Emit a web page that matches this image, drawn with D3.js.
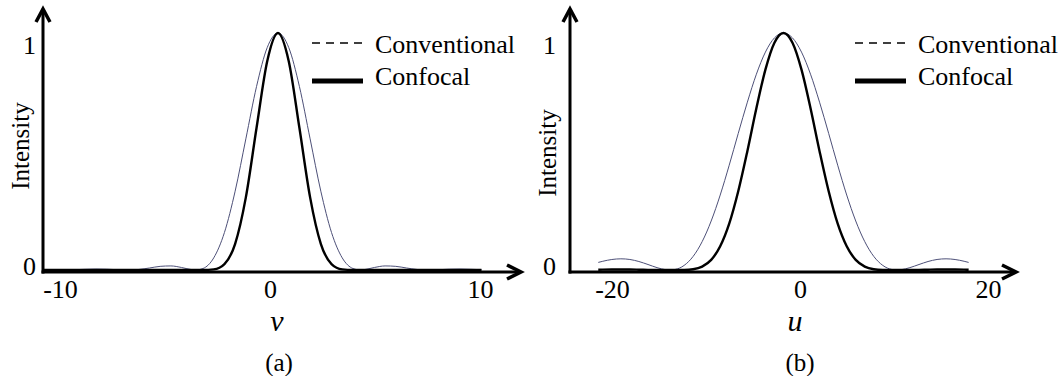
<!DOCTYPE html>
<html lang="en">
<head>
<meta charset="utf-8">
<title>Conventional vs Confocal Intensity</title>
<script src="https://d3js.org/d3.v7.min.js"></script>
<style>
  body { margin: 0; background: #fff; }
  svg text { font-family: "Liberation Serif", Tinos, "Times New Roman", Times, "DejaVu Serif", serif; fill: #000; }
  .tick text { font-size: 26px; }
  .legend { font-size: 26px; }
  .ylabel { font-size: 25px; }
  .xlabel { font-size: 30px; font-style: italic; }
  .caption { font-size: 25px; }
</style>
</head>
<body>
<div id="vis"></div>
<script>
// panel (a): lateral, v
const vA = [-10.84,-10.33,-9.82,-9.31,-8.80,-8.29,-7.78,-7.27,-6.76,-6.25,-5.74,-5.23,-4.72,-4.21,-3.70,-3.53,-3.19,-2.68,-2.17,-1.66,-1.15,-0.64,-0.13,
            0.38,
            0.89,1.40,1.91,2.42,2.93,3.44,3.95,4.29,4.46,4.97,5.48,5.99,6.50,7.01,7.52,8.03,8.54,9.05,9.56,10.07];
const convA = [0.0010,0.0002,0.0001,0.0012,0.0030,0.0041,0.0034,0.0013,0.0000,0.0022,0.0085,0.0154,0.0172,0.0106,0.0011,0.0000,0.0062,0.0511,0.1581,0.3326,0.5534,0.7746,0.9392,
               1.0000,
               0.9392,0.7746,0.5534,0.3326,0.1581,0.0511,0.0062,0.0000,0.0011,0.0106,0.0172,0.0154,0.0085,0.0022,0.0000,0.0013,0.0034,0.0041,0.0030,0.0012];
const confA = [0,0,0,0,0,0,0,0,0,0,0.0001,0.0002,0.0003,0.0001,0,0,0,0.0026,0.0250,0.1106,0.3063,0.6000,0.8821,
               1.0000,
               0.8821,0.6000,0.3063,0.1106,0.0250,0.0026,0,0,0,0.0001,0.0003,0.0002,0.0001,0,0,0,0,0,0,0];

// panel (b): axial, u
const uB = [-21.46,-20.98,-20.02,-19.06,-18.10,-17.14,-16.17,-15.21,-14.25,-13.84,-13.29,-12.33,-11.37,-10.41,-9.45,-8.49,-7.53,-6.57,-5.60,-4.64,-3.68,-2.72,
            -1.76,
            -0.80,0.16,1.12,2.08,3.05,4.01,4.97,5.93,6.89,7.85,8.81,9.77,10.32,10.73,11.69,12.66,13.62,14.58,15.54,16.50,17.46,17.94];
const convB = [0.0320,0.0368,0.0443,0.0472,0.0444,0.0358,0.0232,0.0100,0.0011,0.0000,0.0022,0.0193,0.0573,0.1196,0.2067,0.3162,0.4422,0.5764,0.7081,0.8261,0.9194,0.9793,
               1.0000,
               0.9793,0.9194,0.8261,0.7081,0.5764,0.4422,0.3162,0.2067,0.1196,0.0573,0.0193,0.0022,0.0000,0.0011,0.0100,0.0232,0.0358,0.0444,0.0472,0.0443,0.0368,0.0320];
const confB = [0.0010,0.0014,0.0020,0.0022,0.0020,0.0013,0.0005,0.0001,0,0,0,0.0004,0.0033,0.0143,0.0427,0.1000,0.1955,0.3322,0.5014,0.6824,0.8453,0.9590,
               1.0000,
               0.9590,0.8453,0.6824,0.5014,0.3322,0.1955,0.1000,0.0427,0.0143,0.0033,0.0004,0,0,0,0.0001,0.0005,0.0013,0.0020,0.0022,0.0020,0.0014,0.0010];

const ticksA = [-10, 0, 10];
const ticksB = [-20, 0, 20];
const yTicks = [0, 1];
const seriesNames = ["Conventional", "Confocal"];

const width = 1064, height = 376;

const svg = d3.select("#vis").append("svg")
  .attr("width", width)
  .attr("height", height);

function drawPanel(p) {
  const x = d3.scaleLinear().domain(p.xDomain).range(p.xRange);
  const y = d3.scaleLinear().domain([0, 1]).range([270, 33]);
  const g = svg.append("g");

  const line = d3.line()
    .x(d => x(d[0]))
    .y(d => y(d[1]))
    .curve(d3.curveMonotoneX);

  // conventional: thin grey-blue
  g.append("path")
    .datum(p.xs.map((v, i) => [v, p.conv[i]]))
    .attr("d", line)
    .attr("fill", "none")
    .attr("stroke", "#4d5078")
    .attr("stroke-width", 1);

  // confocal: thick black
  g.append("path")
    .datum(p.xs.map((v, i) => [v, p.conf[i]]))
    .attr("d", line)
    .attr("fill", "none")
    .attr("stroke", "#000")
    .attr("stroke-width", 2.4);

  // axes lines with arrows
  const ax = p.axisX, ay = 272;
  g.append("line").attr("x1", ax).attr("y1", ay + 1.5).attr("x2", ax).attr("y2", 10)
    .attr("stroke", "#000").attr("stroke-width", 3);
  g.append("line").attr("x1", ax - 1.5).attr("y1", ay).attr("x2", p.arrowX - 1).attr("y2", ay)
    .attr("stroke", "#000").attr("stroke-width", 3);
  g.append("polyline")
    .attr("points", [[ax - 7, 22], [ax, 9], [ax + 7, 22]].join(" "))
    .attr("fill", "none").attr("stroke", "#000").attr("stroke-width", 3.5);
  g.append("polyline")
    .attr("points", [[p.arrowX - 14, ay - 7], [p.arrowX, ay], [p.arrowX - 14, ay + 7]].join(" "))
    .attr("fill", "none").attr("stroke", "#000").attr("stroke-width", 3.5);

  // tick labels
  const bottomAxis = d3.axisBottom(x).tickValues(p.ticks).tickSize(0).tickPadding(8)
    .tickFormat(d => String(d));
  const gx = g.append("g").attr("transform", "translate(0," + ay + ")").call(bottomAxis);
  gx.select(".domain").remove();
  gx.attr("font-family", null).attr("font-size", null);

  const leftAxis = d3.axisLeft(y).tickValues(yTicks).tickSize(0).tickPadding(p.yPad)
    .tickFormat(d => String(d));
  const gy = g.append("g").attr("transform", "translate(" + ax + ",0)").call(leftAxis);
  gy.select(".domain").remove();
  gy.attr("font-family", null).attr("font-size", null);
  gy.selectAll("text").attr("dy", d => d === 1 ? "0.78em" : "0.17em");

  // y label
  g.append("text")
    .attr("class", "ylabel")
    .attr("transform", "translate(" + p.yLabelX + "," + p.yLabelY + ") rotate(-90)")
    .attr("text-anchor", "middle")
    .attr("dy", "0.35em")
    .text("Intensity");

  // x label
  g.append("text")
    .attr("class", "xlabel")
    .attr("x", p.xNameX)
    .attr("y", 331)
    .attr("text-anchor", "middle")
    .text(p.xName);

  g.append("text")
    .attr("class", "caption")
    .attr("x", p.captionX)
    .attr("y", 371)
    .attr("text-anchor", "middle")
    .text(p.caption);

  // legend
  const lg = g.append("g").attr("transform", "translate(" + p.legendX + ",0)");
  lg.append("line").attr("x1", 0).attr("x2", 51).attr("y1", 43).attr("y2", 43)
    .attr("stroke", "#000").attr("stroke-width", 1.5).attr("stroke-dasharray", "8,6");
  lg.append("line").attr("x1", 0).attr("x2", 51).attr("y1", 81).attr("y2", 81)
    .attr("stroke", "#000").attr("stroke-width", 5);
  lg.append("text").attr("class", "legend").attr("x", 63).attr("y", 53).text(seriesNames[0]);
  lg.append("text").attr("class", "legend").attr("x", 63).attr("y", 85).text(seriesNames[1]);
}

drawPanel({
  xs: vA, conv: convA, conf: confA,
  xDomain: [-10, 10], xRange: [60, 480], ticks: ticksA,
  axisX: 43, arrowX: 521, yPad: 7,
  yLabelX: 20, yLabelY: 146,
  xName: "v", xNameX: 277, caption: "(a)", captionX: 279,
  legendX: 312
});

drawPanel({
  xs: uB, conv: convB, conf: confB,
  xDomain: [-20, 20], xRange: [612, 988], ticks: ticksB,
  axisX: 570, arrowX: 1016, yPad: 14,
  yLabelX: 547, yLabelY: 153,
  xName: "u", xNameX: 795, caption: "(b)", captionX: 800,
  legendX: 855
});
</script>
</body>
</html>
